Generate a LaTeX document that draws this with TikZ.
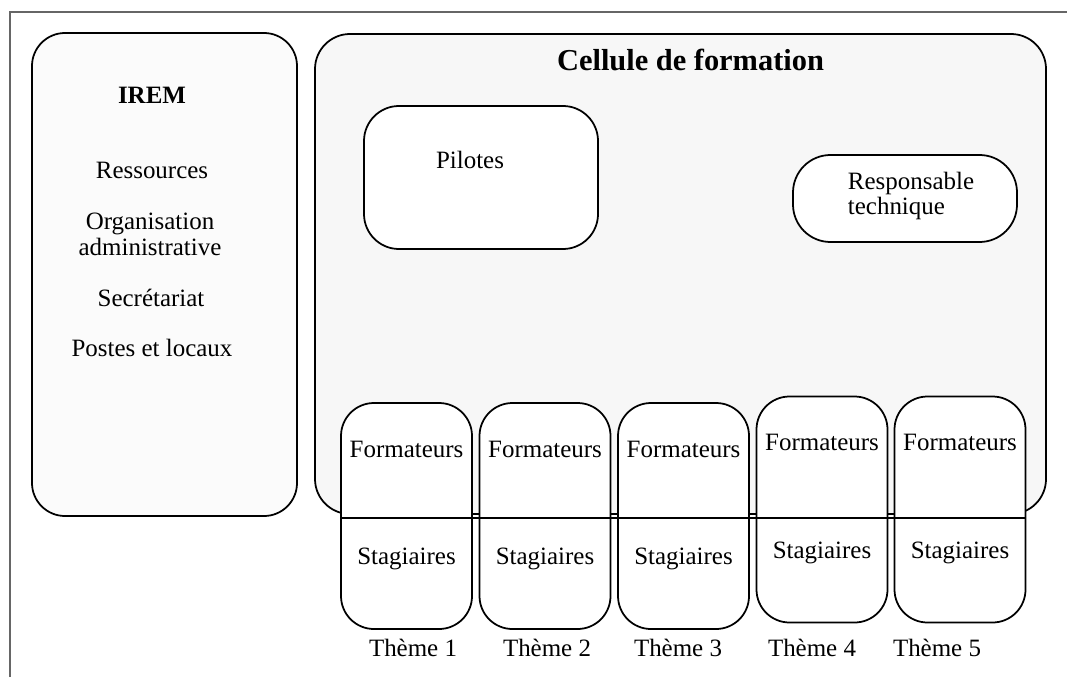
\documentclass[tikz,border=0pt]{standalone}
\usepackage{fontspec}
\setmainfont{Liberation Serif}
\usetikzlibrary{positioning,calc}
\tikzset{>=latex}
\tikzset{
	boite/.style={draw=black, line width=1pt, rounded corners=0.66cm},
	cadre/.style={draw=black!60, line width=1pt},
}

\begin{document}
\begin{tikzpicture}[font=\fontsize{14.2}{14.5}\selectfont]

	\useasboundingbox (0,0) rectangle (21.34,-13.54);
	\draw[cadre] (0.2,-13.54) -- (0.2,-0.24) -- (21.34,-0.24);

	% IREM
	\node (irem-box) [boite, fill=gray!3, minimum width=5.3cm, minimum height=9.66cm] at (3.29,-5.49) {};
	\node (irem) [font=\fontsize{14.2}{14.5}\selectfont\bfseries] at (3.04,-1.9) {IREM};
	\node (ressources) at (3.04,-3.4) {Ressources};
	\node (organisation) [align=center] at (3.0,-4.69) {Organisation\\administrative};
	\node (secretariat) at (3.02,-5.96) {Secrétariat};
	\node (postes) at (3.04,-6.96) {Postes et locaux};

	% cellule
	\node (cellule-box) [boite, fill=gray!6, rounded corners=0.7cm, minimum width=14.62cm, minimum height=9.6cm] at (13.61,-5.48) {};
	\node (cellule) [font=\fontsize{17.3}{20}\selectfont\bfseries] at (13.81,-1.2) {Cellule de formation};

	\node (pilotes-box) [boite, fill=white, rounded corners=0.7cm, minimum width=4.68cm, minimum height=2.86cm] at (9.62,-3.55) {};
	\node (pilotes) at (9.4,-3.2) {Pilotes};

	\node (responsable-box) [boite, fill=white, rounded corners=0.75cm, minimum width=4.48cm, minimum height=1.74cm] at (18.1,-3.97) {};
	\node (responsable) [align=left] at (18.22,-3.92) {Responsable\\technique};

	% themes
	\foreach \i/\x/\y/\tx in {1/8.13/-10.32/8.26, 2/10.9/-10.32/10.94, 3/13.67/-10.32/13.56, 4/16.44/-10.19/16.24, 5/19.2/-10.19/18.74} {
		\node (theme\i-box) [boite, fill=white, minimum width=2.62cm, minimum height=4.52cm] at (\x,\y) {};
		\node (formateurs\i) at (\x,\y+1.34) {Formateurs};
		\node (stagiaires\i) at (\x,\y-0.86) {Stagiaires};
		\node (theme\i) at (\tx,-12.96) {Thème \i};
	}

	\coordinate (split-left) at (6.82,-10.36);
	\coordinate (split-right) at (20.5,-10.36);
	\draw[line width=1pt] (split-left) -- (split-right);

\end{tikzpicture}
\end{document}
